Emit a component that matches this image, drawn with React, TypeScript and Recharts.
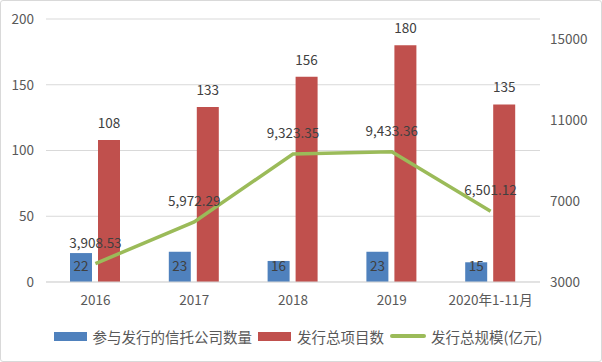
import React from 'react';
import { ComposedChart, Bar, Line, XAxis, YAxis, CartesianGrid, Legend, LabelList } from 'recharts';

const categories = ['2016', '2017', '2018', '2019', '2020年1-11月'];
const trustCompanies = [22, 23, 16, 23, 15];
const totalProjects = [108, 133, 156, 180, 135];
const totalScale = [3908.53, 5972.29, 9323.35, 9433.36, 6501.12];
const leftTicks = [0, 50, 100, 150, 200];
const rightTicks = [3000, 7000, 11000, 15000];

const seriesNames = ['参与发行的信托公司数量', '发行总项目数', '发行总规模(亿元)'];
const colors = ['#4F81BD', '#C0504D', '#9BBB59'];

const data = categories.map((c, i) => ({
  name: c,
  a: trustCompanies[i],
  b: totalProjects[i],
  c: totalScale[i],
}));

const FONT = '"Noto Sans CJK SC", "Noto Sans", sans-serif';
const LABEL_COLOR = '#404040';
const TICK_COLOR = '#595959';

const fmt = (v: number) =>
  v.toLocaleString('en-US', { minimumFractionDigits: 2, maximumFractionDigits: 2 });

const BlueLabel = (props: any) => {
  const { x, y, width, height, value } = props;
  return (
    <text x={x + width / 2} y={y + height - 17} textAnchor="middle" dominantBaseline="central"
      fill={LABEL_COLOR} fontSize={13.5} fontFamily={FONT}>{value}</text>
  );
};

const RedLabel = (props: any) => {
  const { x, y, width, value } = props;
  return (
    <text x={x + width / 2} y={y - 18} textAnchor="middle" dominantBaseline="central"
      fill={LABEL_COLOR} fontSize={13.5} fontFamily={FONT}>{value}</text>
  );
};

const LineLabel = (props: any) => {
  const { x, y, value } = props;
  return (
    <text x={x} y={y - 22} textAnchor="middle" dominantBaseline="central"
      fill={LABEL_COLOR} fontSize={13.5} fontFamily={FONT}>{fmt(value)}</text>
  );
};

const CustomLegend = () => (
  <div style={{ display: 'flex', justifyContent: 'center', alignItems: 'center', fontFamily: FONT, fontSize: 14.5, color: TICK_COLOR, height: 30 }}>
    {seriesNames.map((n, i) => (
      <div key={n} style={{ display: 'flex', alignItems: 'center', marginRight: 6 }}>
        {i < 2 ? (
          <div style={{ width: 33, height: 9, background: colors[i], marginRight: 6 }} />
        ) : (
          <div style={{ width: 36, height: 4, background: colors[i], borderRadius: 2, marginRight: 5 }} />
        )}
        <span style={{ whiteSpace: 'nowrap' }}>{n}</span>
      </div>
    ))}
  </div>
);

export default function App() {
  return (
    <div style={{ position: 'absolute', left: 0, top: 0, width: 602, height: 362, boxSizing: 'border-box', border: '1px solid #D9D9D9', borderRadius: 3, background: '#fff' }}>
      <div style={{ position: 'absolute', left: -1, top: -1 }}>
        <ComposedChart width={602} height={362} data={data}
          margin={{ top: 19, right: 0, left: 0, bottom: 11 }} barGap={6}>
          <CartesianGrid yAxisId="left" vertical={false} stroke="#D9D9D9" />
          <XAxis dataKey="name" axisLine={{ stroke: '#D9D9D9' }} tickLine={false} height={39}
            tickMargin={7} tick={{ fill: TICK_COLOR, fontSize: 13.5, fontFamily: FONT }} />
          <YAxis yAxisId="left" domain={[0, 200]} ticks={leftTicks} width={46} axisLine={false}
            tickLine={false} tickMargin={6} tick={{ fill: TICK_COLOR, fontSize: 13.5, fontFamily: FONT }} />
          <YAxis yAxisId="right" orientation="right" domain={[3000, 16000]} ticks={rightTicks} width={62}
            axisLine={false} tickLine={false} tickMargin={4} tick={{ fill: TICK_COLOR, fontSize: 13.5, fontFamily: FONT }} />
          <Legend verticalAlign="bottom" height={30} content={<CustomLegend />} />
          <Bar yAxisId="left" dataKey="a" name={seriesNames[0]} fill={colors[0]} barSize={22} isAnimationActive={false}>
            <LabelList dataKey="a" content={<BlueLabel />} />
          </Bar>
          <Bar yAxisId="left" dataKey="b" name={seriesNames[1]} fill={colors[1]} barSize={22} isAnimationActive={false}>
            <LabelList dataKey="b" content={<RedLabel />} />
          </Bar>
          <Line yAxisId="right" dataKey="c" name={seriesNames[2]} stroke={colors[2]} strokeWidth={3.5}
            dot={false} isAnimationActive={false}>
            <LabelList dataKey="c" content={<LineLabel />} />
          </Line>
        </ComposedChart>
      </div>
    </div>
  );
}
